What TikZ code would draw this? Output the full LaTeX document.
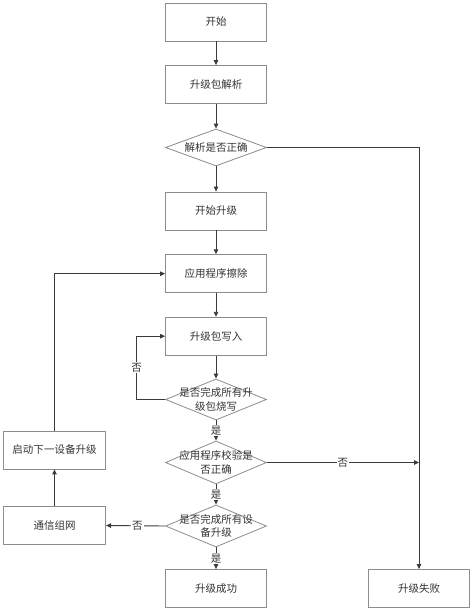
\documentclass[tikz,border=0pt]{standalone}
\usepackage{fontspec}
\newfontfamily\cjk{Noto Sans CJK SC}
\usetikzlibrary{shapes.geometric,arrows.meta}
\definecolor{bordc}{HTML}{8C8C8C}
\definecolor{linec}{HTML}{3A3A3A}
\definecolor{txtc}{HTML}{333333}
\begin{document}
\begin{tikzpicture}[x=1pt,y=-1pt,
  font=\cjk\fontsize{10.5}{13.5}\selectfont,
  box/.style={draw=bordc,line width=0.8pt,minimum width=101pt,minimum height=38pt,inner sep=0pt,text=txtc},
  dia/.style={draw=bordc,line width=0.8pt,diamond,minimum width=101pt,minimum height=#1,inner sep=0pt},
  dtxt/.style={align=center,text=txtc,inner sep=0pt},
  lbl/.style={fill=white,inner sep=1pt,text=txtc},
  conn/.style={draw=linec,line width=0.9pt},
  arr/.style={conn,-{Triangle[length=5pt,width=4.5pt]}}]
\useasboundingbox (0,0) rectangle (474,612);
\node[box] (start) at (216,22) {开始};
\node[box] (parse) at (216,84.5) {升级包解析};
\node[dia=37pt] (d1) at (216,147.5) {};
\node[dtxt] (d1t) at (216,147.5) {解析是否正确};
\node[box] (begin) at (216,211) {开始升级};
\node[box] (erase) at (216,273.7) {应用程序擦除};
\node[box] (write) at (216,336.2) {升级包写入};
\node[dia=41pt] (d2) at (216,399.5) {};
\node[dtxt] (d2t) at (216,399.5) {是否完成所有升\\级包烧写};
\node[dia=43pt] (d3) at (216,462.5) {};
\node[dtxt] (d3t) at (216,462.5) {应用程序校验是\\否正确};
\node[dia=42pt] (d4) at (216,526) {};
\node[dtxt] (d4t) at (216,526) {是否完成所有设\\备升级};
\node[box] (succ) at (216,588.5) {升级成功};
\node[box] (fail) at (419,588.5) {升级失败};
\node[box,minimum width=102.4pt] (net) at (54.5,525.5) {通信组网};
\node[box,minimum width=102.4pt] (next) at (54.5,450) {启动下一设备升级};
\coordinate (j) at (419,462.5);
\coordinate (lp) at (136.7,399.5);

\draw[arr] (start) -- (parse);
\draw[arr] (parse) -- (d1);
\draw[arr] (d1) -- (begin);
\draw[arr] (d1.east) -| (fail.north);
\draw[arr] (begin) -- (erase);
\draw[arr] (erase) -- (write);
\draw[arr] (write) -- (d2);
\draw[arr] (d2.west) -- (lp) |- node[lbl,pos=0.25] {否} (write.west);
\draw[arr] (d2) -- node[lbl] {是} (d3);
\draw[arr] (d3.east) -- node[lbl,pos=0.5] {否} (j);
\draw[arr] (d3) -- node[lbl] {是} (d4);
\draw[arr] (d4) -- node[lbl] {是} (succ);
\draw[arr] (d4.west) -- node[lbl,pos=0.47] {否} (net.east);
\draw[arr] (net) -- (next);
\draw[arr] (next.north) |- (erase.west);
\end{tikzpicture}
\end{document}
